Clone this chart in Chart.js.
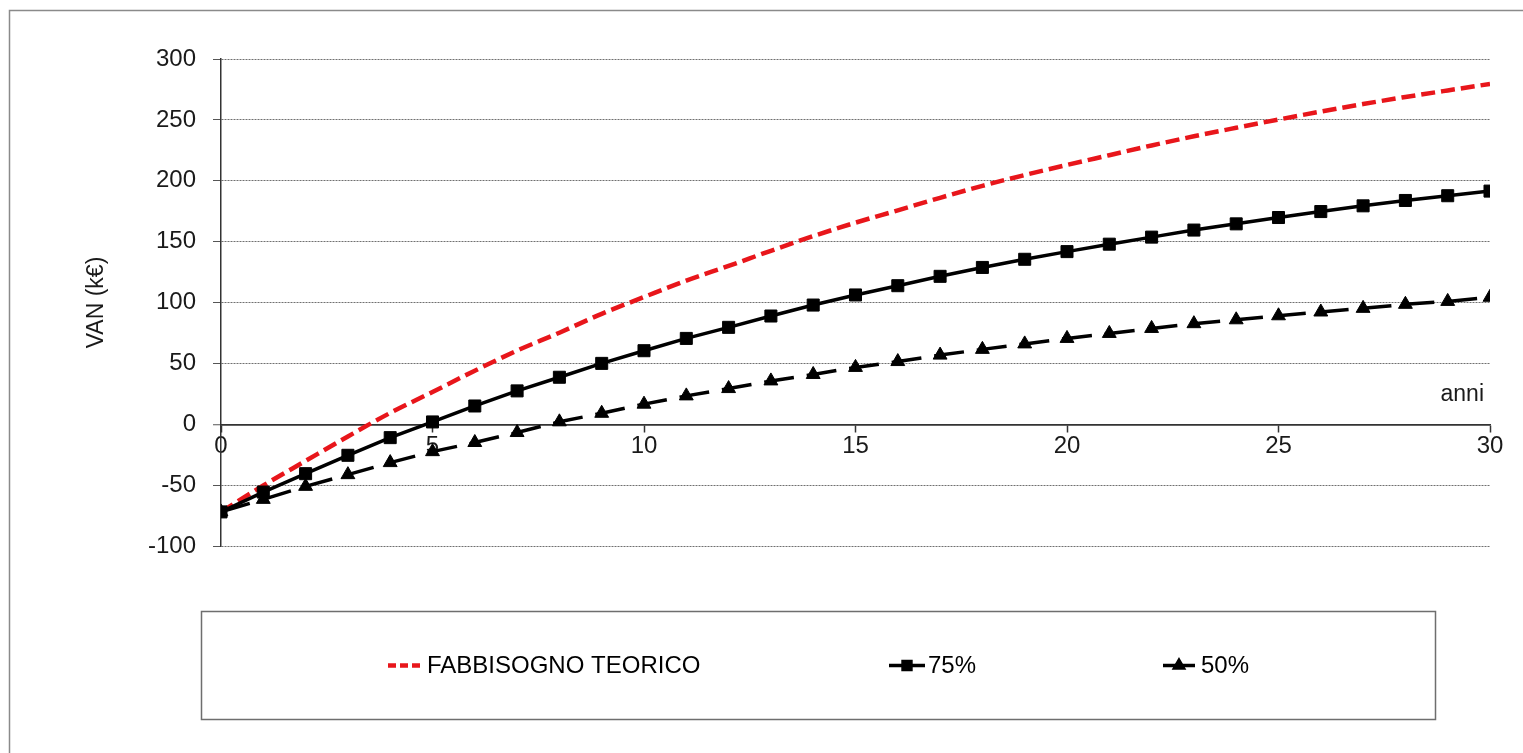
<!DOCTYPE html>
<html lang="it">
<head>
<meta charset="utf-8">
<title>VAN (k€)</title>
<script src="https://cdn.jsdelivr.net/npm/chart.js@4/dist/chart.umd.min.js"></script>
<style>
  html, body { margin: 0; padding: 0; background: #fff; }
  #wrap { position: relative; width: 1523px; height: 753px; }
</style>
</head>
<body>
<div id="wrap"><canvas id="c"></canvas></div>
<script>
// anni
const years = [0, 1, 2, 3, 4, 5, 6, 7, 8, 9, 10, 11, 12, 13, 14, 15, 16, 17, 18, 19, 20,
               21, 22, 23, 24, 25, 26, 27, 28, 29, 30];

// VAN (k€) per scenario
const fabbisognoTeorico = [-72, -50.3, -30.1, -10, 9.3, 26.5, 44, 60.5, 75.2, 90.7, 104.5,
  118, 130, 142.5, 154.5, 165.6, 175.7, 186, 195.8, 204.7, 213,
  221, 229, 236.5, 243.5, 250.3, 256.8, 263, 268.8, 274.2, 279.5];

const van75 = [-72, -55.7, -40.6, -25.5, -11, 1.9, 15, 27.4, 38.6, 50, 60.4,
  70.5, 79.6, 88.9, 97.9, 106.2, 113.8, 121.5, 128.8, 135.5, 141.8,
  147.9, 153.7, 159.5, 164.6, 169.8, 174.7, 179.4, 183.8, 187.7, 191.5];

const van50 = [-72, -61.7, -51, -41.4, -31.5, -22.5, -15, -6.8, 2, 9, 16.5,
  23.3, 29.3, 35.6, 40.9, 46.7, 51.5, 56.8, 61.5, 66, 70.5,
  74.6, 78.7, 82.6, 85.8, 89.1, 92.2, 95.2, 98.5, 100.9, 104.3];

const seriesLabels = ['FABBISOGNO TEORICO', '75%', '50%'];

// y-axis tick values and x-axis tick values
const yTicks = [-100, -50, 0, 50, 100, 150, 200, 250, 300];
const xTicks = [0, 5, 10, 15, 20, 25, 30];

const FONT = '"Liberation Sans", Arial, sans-serif';
const RED = '#e8161b';

const toPoints = arr => years.map((y, i) => ({ x: y, y: arr[i] }));

// Outer frame, "anni" caption and the boxed legend
const decorations = {
  id: 'decorations',
  afterDraw(chart) {
    const { ctx, chartArea, scales } = chart;
    ctx.save();

    // frame around the whole figure
    ctx.strokeStyle = '#8a8a8a';
    ctx.lineWidth = 1.5;
    ctx.strokeRect(9.5, 10.5, 1700, 900);

    // axis caption
    ctx.fillStyle = '#1a1a1a';
    ctx.font = '23px ' + FONT;
    ctx.textAlign = 'right';
    ctx.textBaseline = 'middle';
    ctx.fillText('anni', chartArea.right - 6, scales.y.getPixelForValue(0) - 30);

    // legend box
    const box = { x: 201.5, y: 611.5, w: 1234, h: 108 };
    ctx.strokeStyle = '#6e6e6e';
    ctx.lineWidth = 1.5;
    ctx.strokeRect(box.x, box.y, box.w, box.h);

    const cy = box.y + 54;
    const items = [
      { sx: 388, ex: 424, tx: 427 },
      { sx: 889, ex: 925, tx: 928 },
      { sx: 1163, ex: 1195, tx: 1201 }
    ];
    ctx.font = '24px ' + FONT;
    ctx.textAlign = 'left';
    chart.data.datasets.forEach((ds, i) => {
      const it = items[i];
      ctx.save();
      ctx.strokeStyle = ds.borderColor;
      ctx.lineWidth = i === 0 ? 4.5 : 3.5;
      ctx.setLineDash(i === 0 ? [8, 4] : []);
      ctx.beginPath();
      ctx.moveTo(it.sx, cy);
      ctx.lineTo(it.ex, cy);
      ctx.stroke();
      ctx.restore();
      if (ds.pointStyle && ds.pointRadius > 0) {
        ctx.fillStyle = ds.pointBackgroundColor;
        ctx.strokeStyle = ds.pointBorderColor;
        Chart.helpers.drawPoint(ctx, {
          pointStyle: ds.pointStyle,
          radius: ds.pointStyle === 'rect' ? 7 : 7,
          rotation: 0,
          borderWidth: 1
        }, (it.sx + it.ex) / 2, cy);
      }
      ctx.fillStyle = '#000';
      ctx.fillText(ds.label, it.tx, cy + 1);
    });
    ctx.restore();
  }
};

new Chart(document.getElementById('c'), {
  type: 'line',
  data: {
    datasets: [
      {
        label: seriesLabels[0],
        data: toPoints(fabbisognoTeorico),
        borderColor: RED,
        borderWidth: 4.5,
        borderDash: [14, 6],
        pointRadius: 0,
        pointStyle: false,
        cubicInterpolationMode: 'monotone',
        order: 3
      },
      {
        label: seriesLabels[1],
        data: toPoints(van75),
        borderColor: '#000',
        borderWidth: 3.5,
        pointStyle: 'rect',
        pointRadius: 8.5,
        pointBackgroundColor: '#000',
        pointBorderColor: '#000',
        pointBorderWidth: 1,
        tension: 0,
        order: 1
      },
      {
        label: seriesLabels[2],
        data: toPoints(van50),
        borderColor: '#000',
        borderWidth: 3.5,
        borderDash: [30, 13],
        pointStyle: 'triangle',
        pointRadius: 8,
        pointBackgroundColor: '#000',
        pointBorderColor: '#000',
        pointBorderWidth: 1,
        tension: 0,
        order: 2
      }
    ]
  },
  options: {
    responsive: true,
    maintainAspectRatio: false,
    animation: false,
    devicePixelRatio: 1,
    layout: { padding: { left: 0, top: 59, right: 33, bottom: 207 } },
    plugins: {
      legend: { display: false },
      tooltip: { enabled: false }
    },
    scales: {
      x: {
        type: 'linear',
        min: 0,
        max: 30,
        position: { y: 0 },
        afterFit(scale) { scale.height = 0; },
        afterBuildTicks(scale) { scale.ticks = xTicks.map(v => ({ value: v })); },
        grid: {
          drawOnChartArea: false,
          drawTicks: true,
          tickLength: 7,
          tickColor: '#333',
          tickWidth: 1.5,
          color: '#333'
        },
        border: { display: true, color: '#333', width: 1.5 },
        ticks: {
          padding: 1,
          color: '#1a1a1a',
          font: { family: FONT, size: 24 },
          maxRotation: 0,
          autoSkip: false
        }
      },
      y: {
        type: 'linear',
        min: -100,
        max: 300,
        afterFit(scale) { scale.width = 221; },
        afterBuildTicks(scale) { scale.ticks = yTicks.map(v => ({ value: v })); },
        grid: {
          color: ctx => (ctx.tick && ctx.tick.value === 0) ? '#333' : '#707070',
          lineWidth: ctx => (ctx.tick && ctx.tick.value === 0) ? 1.5 : 1,
          drawTicks: true,
          tickLength: 8,
          tickColor: '#555',
          tickWidth: 1,
          tickBorderDash: []
        },
        border: {
          display: true,
          color: '#333',
          width: 1.5,
          dash: ctx => (ctx.tick && ctx.tick.value === 0) ? [] : [2, 1]
        },
        ticks: {
          padding: 17,
          color: '#1a1a1a',
          font: { family: FONT, size: 24 }
        },
        title: {
          display: true,
          text: 'VAN (k€)',
          color: '#1a1a1a',
          font: { family: FONT, size: 23 },
          padding: { top: 83, bottom: 0 }
        }
      }
    }
  },
  plugins: [decorations]
});
</script>
</body>
</html>
